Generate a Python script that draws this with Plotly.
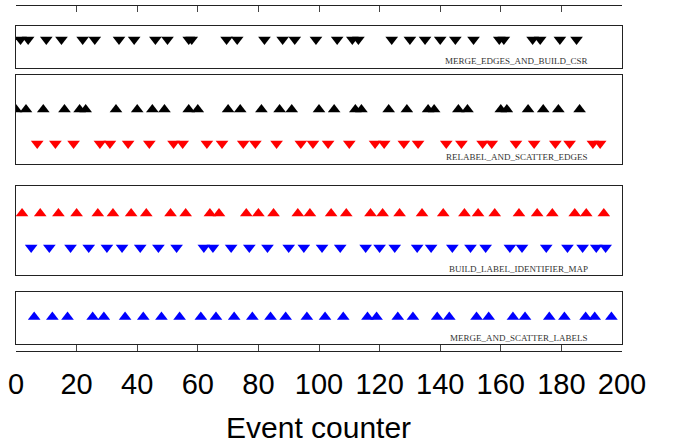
import plotly.graph_objects as go

# ---- data (event counter values) ----
merge_edges_csr_end = [1.5, 4, 10, 15, 22, 26, 34, 39, 46, 50, 57, 58, 69.5, 73, 82, 88, 92, 99,
                       106, 111, 113, 124, 130, 135, 140, 145, 151, 159.5, 161, 170.5, 173, 179.5, 185]
relabel_start = [0, 3.3, 9, 16, 21, 23, 33, 40, 45, 49, 57, 60, 70, 74, 81, 87, 91, 100, 105,
                 112, 114, 123, 129, 136, 138, 146, 149, 160, 162, 169, 174, 179, 186]
relabel_end = [7, 13, 19, 27.7, 31, 37, 44, 52, 55, 63, 68, 75, 79, 86, 94, 98, 103, 110,
               118.5, 121.5, 128, 132.7, 142, 147, 154, 157, 165, 171, 178, 182.7, 190.4, 192.8]
build_map_start = [2, 8, 14, 20, 27, 32, 38, 43, 51, 56, 64, 67, 76, 80, 85, 93, 97, 104, 109,
                   117, 121, 126.6, 134, 141, 148, 152.5, 158, 166, 172, 177, 184.4, 188.2, 194]
build_map_end = [5, 11, 18, 24, 30, 35, 41, 47, 53, 62, 65, 71, 77, 83, 90, 95, 101, 107,
                 115.4, 120, 125, 132.4, 137, 144, 150, 155, 163, 167, 175, 182, 187, 191.5, 194.6]
merge_scatter_start = [6, 12, 17, 25.3, 29, 36, 42, 48, 54, 61, 66, 72, 78, 84, 89, 96, 102, 108,
                       116, 119, 126, 131, 139, 143, 152, 156, 164, 168, 176, 181, 188, 191, 196.5]

panel_names = ["MERGE_EDGES_AND_BUILD_CSR", "RELABEL_AND_SCATTER_EDGES",
               "BUILD_LABEL_IDENTIFIER_MAP", "MERGE_AND_SCATTER_LABELS"]
tick_vals = [0, 20, 40, 60, 80, 100, 120, 140, 160, 180, 200]

# series: (panel index, values, row level in panel, symbol, colour)
series = [
    (1, merge_edges_csr_end, 0.676, "triangle-down", "black"),
    (2, relabel_start, 0.613, "triangle-up", "black"),
    (2, relabel_end, 0.231, "triangle-down", "red"),
    (3, build_map_start, 0.690, "triangle-up", "red"),
    (3, build_map_end, 0.307, "triangle-down", "blue"),
    (4, merge_scatter_start, 0.523, "triangle-up", "blue"),
]

W, H = 681, 443
L, R, T, B = 16, 681 - 622.3, 5, 443 - 351
plot_h = H - T - B


def py2paper(py):
    return (351 - py) / plot_h


panel_px = [(26, 68), (74.7, 164.3), (185.7, 275), (292.3, 344.3)]
label_px = [60.7, 157, 269, 337.7]

fig = go.Figure()
for p, vals, lvl, sym, col in series:
    fig.add_trace(go.Scatter(
        x=vals, y=[lvl] * len(vals), mode="markers",
        marker=dict(symbol=sym, size=11, color=col, line=dict(width=0)),
        xaxis="x" if p == 1 else f"x{p}", yaxis="y" if p == 1 else f"y{p}",
        showlegend=False, hoverinfo="x"))
# empty traces so that the free (outer) axes are drawn
for xa in ["x5", "x6"]:
    fig.add_trace(go.Scatter(x=[], y=[], xaxis=xa, yaxis="y", showlegend=False,
                             hoverinfo="skip"))

line_col = "#222"
layout = dict(width=W, height=H, margin=dict(l=L, r=R, t=T, b=B, autoexpand=False),
              paper_bgcolor="white", plot_bgcolor="white", showlegend=False)
for i, (top, bot) in enumerate(panel_px, start=1):
    xk = "xaxis" if i == 1 else f"xaxis{i}"
    yk = "yaxis" if i == 1 else f"yaxis{i}"
    layout[xk] = dict(range=[0, 200], showline=True, mirror=True, linecolor=line_col,
                      linewidth=1.3, showgrid=False, zeroline=False, ticks="",
                      showticklabels=False, automargin=False,
                      anchor="y" if i == 1 else f"y{i}")
    layout[yk] = dict(range=[0, 1], domain=[py2paper(bot), py2paper(top)], showline=True,
                      mirror=True, linecolor=line_col, linewidth=1.3, showgrid=False,
                      zeroline=False, ticks="", showticklabels=False, automargin=False,
                      anchor="x" if i == 1 else f"x{i}")

# bottom axis with ticks pointing up and labels
layout["xaxis5"] = dict(overlaying="x", anchor="free", position=0, side="bottom",
                        range=[0, 200], tickvals=tick_vals, ticks="inside", ticklen=7,
                        tickwidth=1, tickcolor="#444", showline=True, linecolor=line_col,
                        linewidth=1.3, showgrid=False, zeroline=False, automargin=False,
                        tickfont=dict(family="Liberation Sans, Arial, sans-serif", size=29,
                                      color="black"),
                        ticklabelstandoff=7)
# top axis with ticks pointing down
layout["xaxis6"] = dict(overlaying="x", anchor="free", position=1, side="top",
                        range=[0, 200], tickvals=tick_vals, ticks="inside", ticklen=6,
                        tickwidth=1, tickcolor="#444", showline=True, linecolor=line_col,
                        linewidth=1.3, showgrid=False, zeroline=False, automargin=False,
                        showticklabels=False)
fig.update_layout(**layout)

annotations = []
for name, lp in zip(panel_names, label_px):
    annotations.append(dict(text=name, xref="x", x=189.3, xanchor="right",
                            yref="paper", y=py2paper(lp), yanchor="middle",
                            showarrow=False,
                            font=dict(family="Liberation Serif, Times New Roman, serif",
                                      size=9, color="#333")))
annotations.append(dict(text="Event counter", xref="paper", x=0.499, xanchor="center",
                        yref="paper", y=py2paper(428), yanchor="middle", showarrow=False,
                        font=dict(family="Liberation Sans, Arial, sans-serif", size=30,
                                  color="black")))
fig.update_layout(annotations=annotations)

fig.write_html("out.html", config={"displayModeBar": False},
               post_script="document.body.style.margin='0';document.body.style.padding='0';")
